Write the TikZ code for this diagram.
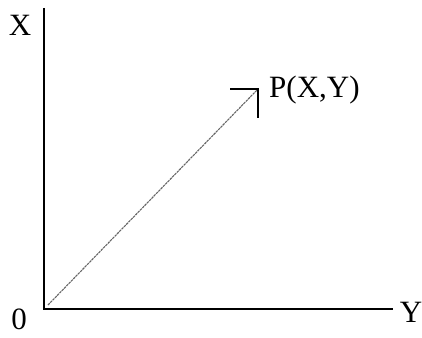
\documentclass[tikz,border=0pt]{standalone}
\usepackage{fontspec}
\setmainfont{Liberation Serif}
\begin{document}
\begin{tikzpicture}[x=1pt,y=-1pt,
  axis/.style={line width=2pt,black},
  vec/.style={line width=1.1pt,black!60,dash pattern=on 2.5pt off 0.8pt},
  headarm/.style={line width=2pt,black},
  lbl/.style={inner sep=0pt,font=\fontsize{31}{31}\selectfont}]
\useasboundingbox (0,0) rectangle (422,337);
% axes
\coordinate (O) at (44,309);
\coordinate (Xtop) at (44,8);
\coordinate (Yend) at (393,309);
\draw[axis] (Xtop) -- (O) -- (Yend);
% vector
\coordinate (S) at (48,305);
\coordinate (T) at (258,89);
\coordinate (AL) at (230,89);
\coordinate (AD) at (258,118);
\draw[vec] (S) -- (T);
\draw[headarm] (AL) -- (T) -- (AD);
% labels
\node[lbl,anchor=base] (lx) at (20,35) {X};
\node[lbl,anchor=base] (ly) at (411,322) {Y};
\node[lbl,anchor=base] (l0) at (19,329) {0};
\node[lbl,anchor=base west] (lp) at (269,97) {P(X,Y)};
\end{tikzpicture}
\end{document}
